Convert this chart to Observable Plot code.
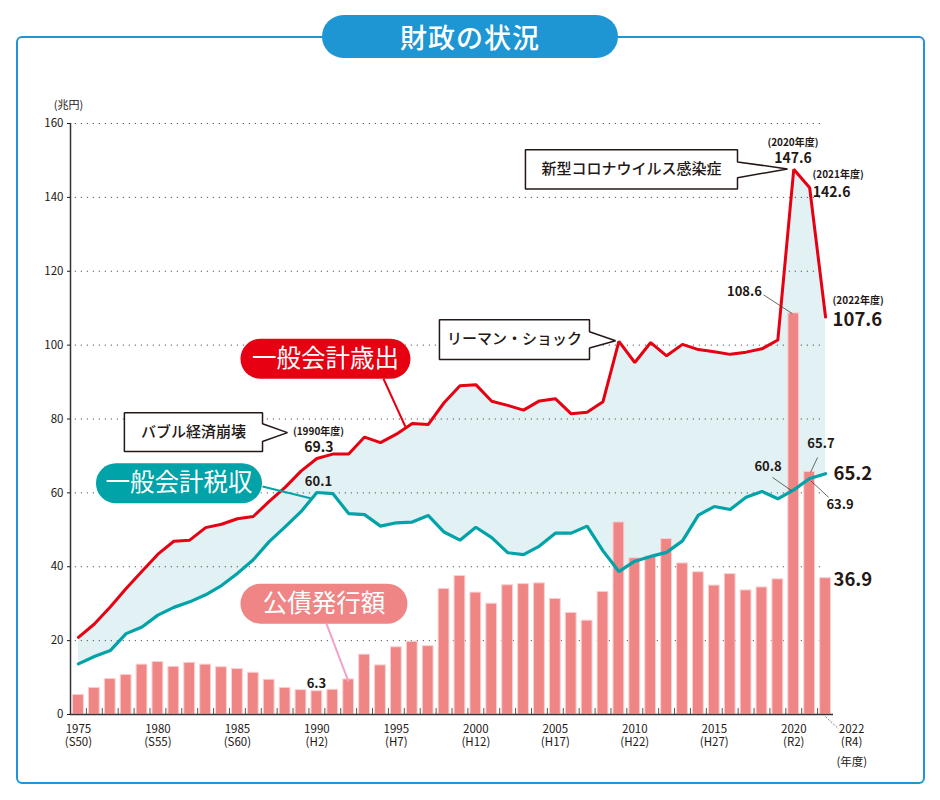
<!DOCTYPE html>
<html lang="ja">
<head>
<meta charset="utf-8">
<script src="https://cdn.jsdelivr.net/npm/d3@7"></script>
<script src="https://cdn.jsdelivr.net/npm/@observablehq/plot@0.6"></script>
<style>
  html, body { margin: 0; padding: 0; background: #fff; }
  #wrap { position: relative; width: 940px; height: 800px; font-family: "Noto Sans CJK JP", "Noto Sans", sans-serif; }
  #frame { position: absolute; left: 16px; top: 36px; width: 905px; height: 744px; border: 2px solid #1e96d4; border-radius: 6px; }
  #chart { position: absolute; left: 0; top: 0; }
  #title { position: absolute; left: 322px; top: 15px; width: 296px; height: 43px; border-radius: 22px; background: #1e96d4; color: #fff;
           font-family: "Noto Sans CJK JP", sans-serif; font-weight: 500; font-size: 27px; display: flex; align-items: center; justify-content: center; letter-spacing: 1px; }
</style>
</head>
<body>
<div id="wrap">
  <div id="frame"></div>
  <div id="chart"></div>
  <div id="title">財政の状況</div>
</div>
<script>
// ---- Data (兆円) ----
const years = d3.range(1975, 2023);
const expenditure = [20.9, 24.5, 29.1, 34.1, 38.8, 43.4, 46.9, 47.2, 50.6, 51.5,
  53.0, 53.6, 57.7, 61.5, 65.9, 69.3, 70.5, 70.5, 75.1, 73.6,
  75.9, 78.8, 78.5, 84.4, 89.0, 89.3, 84.8, 83.7, 82.4, 84.9,
  85.5, 81.4, 81.8, 84.7, 101.0, 95.3, 100.7, 97.1, 100.2, 98.8,
  98.2, 97.5, 98.1, 99.0, 101.4, 147.6, 142.6, 107.6];
const taxRevenue = [13.7, 15.7, 17.3, 21.9, 23.7, 26.9, 29.0, 30.5, 32.4, 34.9,
  38.2, 41.9, 46.8, 50.8, 54.9, 60.1, 59.8, 54.4, 54.1, 51.0,
  51.9, 52.1, 53.9, 49.4, 47.2, 50.7, 47.9, 43.8, 43.3, 45.6,
  49.1, 49.1, 51.0, 44.3, 38.7, 41.5, 42.8, 43.9, 47.0, 54.0,
  56.3, 55.5, 58.8, 60.4, 58.4, 60.8, 63.9, 65.2];
const bondIssuance = [5.3, 7.2, 9.6, 10.7, 13.5, 14.2, 12.9, 14.0, 13.5, 12.8,
  12.3, 11.3, 9.4, 7.2, 6.6, 6.3, 6.7, 9.5, 16.2, 13.3,
  18.2, 19.7, 18.5, 34.0, 37.5, 33.0, 30.0, 35.0, 35.3, 35.5,
  31.3, 27.5, 25.4, 33.2, 52.0, 42.3, 42.8, 47.5, 40.9, 38.5,
  34.9, 38.0, 33.6, 34.4, 36.6, 108.6, 65.7, 36.9];
const yTicks = [0, 20, 40, 60, 80, 100, 120, 140, 160];
const gridValues = [20, 40, 60, 80, 100, 120, 140, 160];
const tickYears = [1975, 1980, 1985, 1990, 1995, 2000, 2005, 2010, 2015, 2020];
const tickEras = ["S50", "S55", "S60", "H2", "H7", "H12", "H17", "H22", "H27", "R2"];
const lastTickYear = 2022;
const lastTickEra = "R4";

const data = years.map((year, i) => ({year, exp: expenditure[i], tax: taxRevenue[i], bond: bondIssuance[i]}));

// ---- Annotations (data coordinates: year, 兆円) ----
const pills = [
  {label: "一般会計歳出", x1: 1986.45, x2: 1994.63, y: 96.3, tx: 1990.54, color: "#e60012"},
  {label: "一般会計税収", x1: 1977.36, x2: 1985.29, y: 62.6, tx: 1981.32, color: "#00a3a8"},
  {label: "公債発行額", x1: 1986.45, x2: 1994.44, y: 30.0, tx: 1990.45, color: "#ef8585"}
];
const pillLeaders = [
  {x1: 1994.19, y1: 90.9, x2: 1995.57, y2: 77.9, color: "#e60012"},
  {x1: 1986.58, y1: 61.7, x2: 1989.72, y2: 58.4, color: "#00a3a8"},
  {x1: 1990.60, y1: 24.6, x2: 1991.99, y2: 8.9, color: "#f2a2c6"}
];
const callouts = [
  {label: "バブル経済崩壊", left: 1977.89, right: 1986.58, top: 81.7, bottom: 71.2, nTop: 78.7, nBot: 73.9, tipX: 1988.15, tipY: 76.3, tx: 1982.24, ty: 76.3},
  {label: "リーマン・ショック", left: 1997.71, right: 2007.15, top: 106.9, bottom: 96.1, nTop: 103.6, nBot: 99.2, tipX: 2008.79, tipY: 101.2, tx: 2002.43, ty: 101.5},
  {label: "新型コロナウイルス感染症", left: 2003.12, right: 2016.46, top: 152.9, bottom: 142.3, nTop: 149.6, nBot: 145.3, tipX: 2019.61, tipY: 147.7, tx: 2009.79, ty: 147.7}
];
const calloutPts = callouts.flatMap((c, k) => [
  [c.left, c.top], [c.right, c.top], [c.right, c.nTop], [c.tipX, c.tipY],
  [c.right, c.nBot], [c.right, c.bottom], [c.left, c.bottom]
].map(([x, y]) => ({k, x, y})));

const yearNotesMid = [
  {t: "(1990年度)", x: 1990.1, y: 76.5},
  {t: "(2020年度)", x: 2019.95, y: 154.7}
];
const yearNotesStart = [
  {t: "(2021年度)", x: 2021.18, y: 146.1},
  {t: "(2022年度)", x: 2022.44, y: 111.9}
];
const midValues = [
  {t: "69.3", x: 1990.13, y: 72.2},
  {t: "147.6", x: 2019.95, y: 150.4}
];
const smallValues = [
  {t: "60.1", x: 1990.1, y: 62.9},
  {t: "6.3", x: 1989.97, y: 8.4},
  {t: "108.6", x: 2016.9, y: 114.3},
  {t: "65.7", x: 2021.71, y: 73.2},
  {t: "60.8", x: 2018.38, y: 67.1},
  {t: "63.9", x: 2022.91, y: 56.8}
];
const startValues = [{t: "142.6", x: 2021.2, y: 141.3}];
const bigValues = [
  {t: "107.6", x: 2022.44, y: 106.8},
  {t: "65.2", x: 2022.5, y: 65.1},
  {t: "36.9", x: 2022.5, y: 36.5}
];
const valueLeaders = [
  {x1: 2018.10, y1: 113.6, x2: 2019.92, y2: 108.5},
  {x1: 2021.50, y1: 69.6, x2: 2021.06, y2: 65.6},
  {x1: 2018.66, y1: 64.2, x2: 2019.86, y2: 60.6},
  {x1: 2022.19, y1: 58.8, x2: 2021.06, y2: 63.3}
];
const boundaries = years.slice(0, -1).map(y => y + 0.5);
const FONT = "'Noto Sans CJK JP', 'Noto Sans', sans-serif";
const INK = "#231815";

const chart = Plot.plot({
  width: 940,
  height: 800,
  marginLeft: 70,
  marginRight: 107,
  marginTop: 123,
  marginBottom: 86,
  style: {background: "transparent", fontFamily: FONT, fontSize: "11.5px", color: INK},
  x: {domain: [1974.5, 2022.5], axis: null},
  y: {domain: [0, 160], axis: null},
  marks: [
    Plot.areaY(data, {x: "year", y1: "tax", y2: "exp", fill: "#e2f1f4"}),
    Plot.ruleY(gridValues, {x1: 1974.8, x2: 2021.9, stroke: "#555", strokeWidth: 1, strokeDasharray: "1.2,4.8"}),
    Plot.rect(data, {x1: d => d.year - 0.34, x2: d => d.year + 0.34, y1: 0, y2: "bond", fill: "#ef8585", stroke: "#f9d2d2", strokeWidth: 1}),
    Plot.line(data, {x: "year", y: "tax", stroke: "#00a3a8", strokeWidth: 3.2, strokeLinejoin: "miter"}),
    Plot.line(data, {x: "year", y: "exp", stroke: "#e60012", strokeWidth: 3, strokeLinejoin: "miter"}),
    // y axis
    Plot.ruleX([1974.5], {y1: 0, y2: 160, stroke: "#333", strokeWidth: 1.5}),
    Plot.axisY({ticks: yTicks, tickSize: 3, tickPadding: 4, fontSize: 11.5, tickFormat: d => d, anchor: "left", label: null}),
    Plot.text(["(兆円)"], {x: 1974.38, y: 165.0, fontSize: 11, fill: INK}),
    // x axis
    Plot.ruleX(boundaries, {y1: 0, y2: 1.6, stroke: "#555", strokeWidth: 1}),
    Plot.ruleY([0], {x1: 1974.5, x2: 2022.5, stroke: "#333", strokeWidth: 1.5}),
    Plot.text(tickYears, {x: d => d, y: 0, dy: 9, lineAnchor: "top", lineHeight: 1.15, fontSize: 11.5, fill: INK,
      text: (d, i) => `${d}\n(${tickEras[i]})`}),
    Plot.text([lastTickYear], {x: d => d, y: 0, dx: 26, dy: 9, lineAnchor: "top", lineHeight: 1.15, fontSize: 11.5, fill: INK,
      text: d => `${d}\n(${lastTickEra})`}),
    Plot.link([0], {x1: 2022.0, y1: -0.6, x2: 2022.82, y2: -3.9, stroke: "#666", strokeWidth: 0.8, strokeDasharray: "2,1.5"}),
    Plot.text(["(年度)"], {x: 2023.65, y: -13.0, fontSize: 11.5, fill: INK}),
    // pills + leaders
    ...pillLeaders.map(l => Plot.link([l], {x1: "x1", y1: "y1", x2: "x2", y2: "y2", stroke: l.color, strokeWidth: 2})),
    ...pills.map(p => Plot.link([p], {x1: "x1", x2: "x2", y1: "y", y2: "y", stroke: p.color, strokeWidth: 40, strokeLinecap: "round"})),
    Plot.text(pills, {x: "tx", y: "y", text: "label", fill: "white", fontSize: 24.5, fontWeight: 400}),
    // callouts
    Plot.line(calloutPts, {x: "x", y: "y", z: "k", curve: "linear-closed", fill: "white", stroke: "#231815", strokeWidth: 1.5, strokeLinejoin: "miter"}),
    Plot.text(callouts, {x: "tx", y: "ty", text: "label", fontSize: 15, fontWeight: 500, fill: INK}),
    // value labels
    Plot.link(valueLeaders, {x1: "x1", y1: "y1", x2: "x2", y2: "y2", stroke: "#444", strokeWidth: 0.8}),
    Plot.text(yearNotesMid, {x: "x", y: "y", text: "t", fontSize: 10, fontWeight: 700, fill: INK}),
    Plot.text(yearNotesStart, {x: "x", y: "y", text: "t", fontSize: 10, fontWeight: 700, fill: INK, textAnchor: "start"}),
    Plot.text(midValues, {x: "x", y: "y", text: "t", fontSize: 14, fontWeight: 700, fill: INK}),
    Plot.text(startValues, {x: "x", y: "y", text: "t", fontSize: 14, fontWeight: 700, fill: INK, textAnchor: "start"}),
    Plot.text(smallValues, {x: "x", y: "y", text: "t", fontSize: 13, fontWeight: 700, fill: INK}),
    Plot.text(bigValues, {x: "x", y: "y", text: "t", fontSize: 18.5, fontWeight: 700, fill: INK, textAnchor: "start"})
  ]
});
document.getElementById("chart").appendChild(chart);
</script>
</body>
</html>
